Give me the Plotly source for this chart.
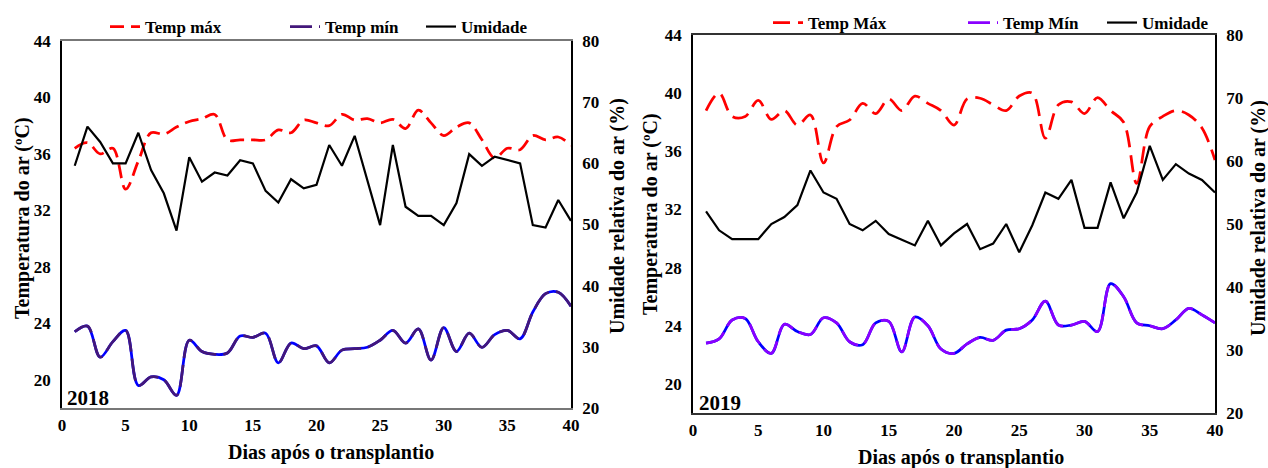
import plotly.graph_objects as go

W, H = 1268, 468

days = list(range(1, 41))

# 2018 series
tmax_2018 = [36.4, 36.8, 36.0, 36.4, 33.5, 35.5, 37.5, 37.4, 37.9, 38.3,
             38.5, 38.8, 37.0, 37.0, 37.0, 37.0, 37.7, 37.5, 38.4, 38.2,
             38.0, 38.8, 38.4, 38.5, 38.2, 38.45, 37.8, 39.1, 38.2, 37.3,
             37.9, 38.2, 37.0, 35.7, 36.4, 36.3, 37.3, 37.0, 37.2, 36.6]
tmin_2018 = [23.4, 23.8, 21.6, 22.7, 23.5, 19.6, 20.2, 20.0, 18.9, 22.8,
             22.0, 21.8, 21.9, 23.1, 23.0, 23.3, 21.2, 22.6, 22.2, 22.4,
             21.2, 22.1, 22.2, 22.3, 22.8, 23.5, 22.6, 23.6, 21.4, 23.7,
             22.0, 23.3, 22.3, 23.2, 23.5, 22.9, 24.8, 26.1, 26.2, 25.2]
hum_2018 = [59.6, 66.0, 63.5, 60.0, 60.0, 65.0, 58.9, 55.1, 49.0, 61.0,
            57.0, 58.5, 58.0, 60.5, 60.0, 55.5, 53.6, 57.4, 55.9, 56.5,
            63.0, 59.6, 64.5, 57.0, 49.9, 63.0, 52.9, 51.4, 51.4, 49.9,
            53.5, 61.5, 59.6, 61.1, 60.5, 60.0, 49.9, 49.5, 54.0, 50.6]

# 2019 series
tmax_2019 = [38.8, 40.0, 38.4, 38.4, 39.5, 38.2, 38.8, 37.8, 38.5, 35.2,
             37.7, 38.15, 39.3, 38.6, 39.6, 38.8, 39.8, 39.3, 38.8, 37.8,
             39.6, 39.65, 39.2, 38.8, 39.8, 40.0, 36.9, 39.2, 39.4, 38.6,
             39.7, 38.8, 38.0, 33.8, 37.7, 38.4, 38.8, 38.5, 37.6, 35.4]
tmin_2019 = [22.8, 23.1, 24.4, 24.5, 22.9, 22.1, 24.1, 23.6, 23.4, 24.55,
             24.2, 22.9, 22.7, 24.2, 24.3, 22.2, 24.6, 24.0, 22.4, 22.1,
             22.75, 23.2, 23.0, 23.7, 23.8, 24.4, 25.7, 24.05, 24.05, 24.3,
             23.6, 26.9, 26.0, 24.2, 24.0, 23.8, 24.4, 25.2, 24.75, 24.2]
hum_2019 = [52.0, 49.0, 47.6, 47.6, 47.6, 50.0, 51.1, 53.0, 58.5, 55.0,
            54.0, 50.0, 49.0, 50.5, 48.4, 47.5, 46.6, 50.5, 46.6, 48.5,
            50.0, 46.0, 46.9, 50.0, 45.5, 49.8, 55.0, 54.0, 57.0, 49.4,
            49.4, 56.6, 50.9, 55.0, 62.4, 57.0, 59.5, 58.0, 57.0, 55.0]

temp_ticks = [20, 24, 28, 32, 36, 40, 44]
hum_ticks = [20, 30, 40, 50, 60, 70, 80]
day_ticks = [0, 5, 10, 15, 20, 25, 30, 35, 40]

FONT = "Liberation Serif"


def px_x(v):
    return v / W


def px_y(v):
    return 1 - v / H


fig = go.Figure()


def add_panel(xa, ya_t, ya_h, tmax, tmin, hum, labels, purple, red_dash, legs):
    fig.add_trace(go.Scatter(
        x=days, y=tmax, xaxis=xa, yaxis=ya_t, mode="lines",
        name=labels[0], legend=legs[0],
        line=dict(color="#FF0000", width=2.75, dash=red_dash,
                  shape="spline", smoothing=1.0)))
    fig.add_trace(go.Scatter(
        x=days, y=tmin, xaxis=xa, yaxis=ya_t, mode="lines",
        showlegend=False, hoverinfo="skip",
        line=dict(color="#0000FF", width=2.75, shape="spline", smoothing=1.0)))
    fig.add_trace(go.Scatter(
        x=days, y=tmin, xaxis=xa, yaxis=ya_t, mode="lines",
        name=labels[1], legend=legs[1],
        line=dict(color=purple, width=2.75, dash="22px,7px",
                  shape="spline", smoothing=1.0)))
    fig.add_trace(go.Scatter(
        x=days, y=hum, xaxis=xa, yaxis=ya_h, mode="lines",
        name=labels[2], legend=legs[2],
        line=dict(color="#000000", width=2.2)))


add_panel("x", "y", "y2", tmax_2018, tmin_2018, hum_2018,
          ["Temp máx", "Temp mín", "Umidade"], "#43177A", "14px,7px",
          ["legend", "legend2", "legend3"])
add_panel("x2", "y3", "y4", tmax_2019, tmin_2019, hum_2019,
          ["Temp Máx", "Temp Mín", "Umidade"], "#8A00FF", "17px,8px",
          ["legend4", "legend5", "legend6"])

tick_font = dict(family=FONT, size=17, color="#000000", weight="bold")
title_font = dict(family=FONT, size=20, color="#000000", weight="bold")
leg_font = dict(family=FONT, size=17, color="#000000", weight="bold")


def xaxis_cfg(domain, anchor, color):
    return dict(domain=domain, anchor=anchor, range=[0, 40], tickvals=day_ticks,
                showline=True, linecolor=color, linewidth=1.5, mirror=True,
                ticks="", showgrid=False, zeroline=False, tickfont=tick_font,
                ticklabelstandoff=1, fixedrange=True, automargin=False)


def temp_axis_cfg(domain, anchor):
    return dict(domain=domain, anchor=anchor, range=[18, 44], tickvals=temp_ticks,
                showline=True, linecolor="#000000", linewidth=1.5, ticks="",
                showgrid=False, zeroline=False, tickfont=tick_font,
                ticklabelstandoff=6, fixedrange=True, automargin=False)


def hum_axis_cfg(over, anchor):
    return dict(overlaying=over, anchor=anchor, side="right", range=[20, 80],
                tickvals=hum_ticks, showline=True, linecolor="#000000",
                linewidth=1.5, ticks="", showgrid=False, zeroline=False,
                tickfont=tick_font, ticklabelstandoff=6, fixedrange=True,
                automargin=False)


layout = dict(
    width=W, height=H,
    margin=dict(l=0, r=0, t=0, b=0, autoexpand=False),
    paper_bgcolor="white", plot_bgcolor="white",
    xaxis=xaxis_cfg([px_x(62), px_x(571)], "y", "#777777"),
    yaxis=temp_axis_cfg([px_y(408), px_y(41)], "x"),
    yaxis2=hum_axis_cfg("y", "x"),
    xaxis2=xaxis_cfg([px_x(693), px_x(1215)], "y3", "#333333"),
    yaxis3=temp_axis_cfg([px_y(413), px_y(35)], "x2"),
    yaxis4=hum_axis_cfg("y3", "x2"),
)

# one legend per entry so each key sits where it belongs above its panel
leg_pos = {
    "legend": (105, 27), "legend2": (285, 27), "legend3": (421, 27),
    "legend4": (768, 23), "legend5": (963, 23), "legend6": (1102, 23),
}
for key, (lx, ly) in leg_pos.items():
    layout[key] = dict(x=px_x(lx), y=px_y(ly), xanchor="left", yanchor="middle",
                       orientation="h", bgcolor="rgba(0,0,0,0)", font=leg_font,
                       borderwidth=0)

fig.update_layout(**layout)

annotations = [
    dict(text="Temperatura do ar (ºC)", x=px_x(22), y=px_y(218), textangle=-90),
    dict(text="Umidade relativa do ar (%)", x=px_x(617), y=px_y(216), textangle=-90),
    dict(text="Dias após o transplantio", x=px_x(331), y=px_y(452)),
    dict(text="Temperatura do ar (ºC)", x=px_x(651), y=px_y(214), textangle=-90),
    dict(text="Umidade relativa do ar (%)", x=px_x(1258), y=px_y(218), textangle=-90),
    dict(text="Dias após o transplantio", x=px_x(961), y=px_y(457)),
]
for a in annotations:
    fig.add_annotation(xref="paper", yref="paper", xanchor="center",
                       yanchor="middle", showarrow=False, font=title_font, **a)

for txt, ax, ay in [("2018", 65, 398), ("2019", 697, 403)]:
    fig.add_annotation(text=txt, xref="paper", yref="paper", x=px_x(ax),
                       y=px_y(ay), xanchor="left", yanchor="middle",
                       showarrow=False,
                       font=dict(family=FONT, size=21, color="#000000",
                                 weight="bold"))

fig.write_html("out.html")
